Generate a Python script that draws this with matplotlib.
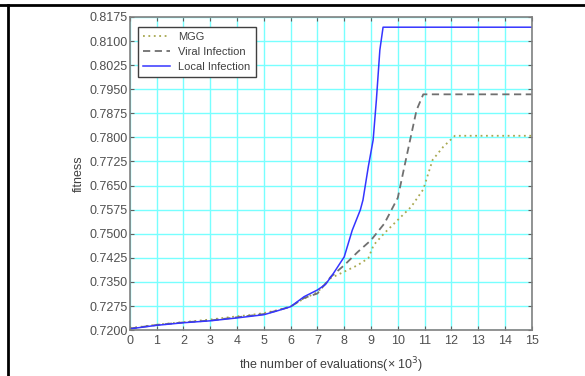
import matplotlib
matplotlib.use("Agg")
import matplotlib.pyplot as plt
from matplotlib.lines import Line2D
import numpy as np

plt.rcParams['font.family'] = ['Liberation Sans', 'DejaVu Sans']

# evaluations (x 10^3) and fitness values
x_local = [0, 1, 2, 3, 4, 5, 5.5, 6, 6.5, 7, 7.3, 7.6, 8, 8.3, 8.6, 8.7, 8.9,
           9.08, 9.2, 9.33, 9.45, 15]
y_local = [0.7204, 0.7215, 0.7223, 0.7229, 0.7238, 0.7248, 0.7260, 0.7273,
           0.7304, 0.7325, 0.7342, 0.7377, 0.7428, 0.7511, 0.7574, 0.7605,
           0.7709, 0.7792, 0.7916, 0.8072, 0.8143, 0.8143]

x_viral = [0, 1, 2, 3, 4, 5, 5.5, 6, 6.5, 7, 7.5, 8, 8.5, 9, 9.5, 10, 10.3,
           10.7, 10.95, 15]
y_viral = [0.7205, 0.7216, 0.7224, 0.7230, 0.7240, 0.7250, 0.7261, 0.7273,
           0.7300, 0.7314, 0.7366, 0.7402, 0.7443, 0.7480, 0.7532, 0.7612,
           0.7730, 0.7885, 0.7934, 0.7934]

x_mgg = [0, 1, 2, 3, 4, 4.5, 5, 5.5, 6, 6.5, 7, 7.5, 8, 8.5, 8.9, 9.1, 9.5,
         10, 10.5, 10.95, 11.3, 11.7, 12.13, 15]
y_mgg = [0.7206, 0.7217, 0.7225, 0.7233, 0.7243, 0.7247, 0.7253, 0.7262,
         0.7274, 0.7298, 0.7318, 0.7362, 0.7382, 0.7402, 0.7424, 0.7465,
         0.7502, 0.7543, 0.7584, 0.7638, 0.7730, 0.7771, 0.7805, 0.7805]

xticks = np.arange(0, 16, 1)
yticks = np.arange(0.7200, 0.8176, 0.0075)

fig = plt.figure(figsize=(5.85, 3.76), dpi=100)
ax = fig.add_axes([0.222, 0.122, 0.687, 0.833])

ax.plot(x_mgg, y_mgg, color='#a8a850', lw=1.3, linestyle=(0, (1, 2)), label='MGG')
ax.plot(x_viral, y_viral, color='#707070', lw=1.3, linestyle=(0, (4, 2.5)), label='Viral Infection')
ax.plot(x_local, y_local, color='#3535ff', lw=1.1, label='Local Infection')

ax.set_xlim(0, 15)
ax.set_ylim(0.7200, 0.8175)
ax.set_xticks(xticks)
ax.set_yticks(yticks)
ax.set_yticklabels(['%.4f' % v for v in yticks])
ax.grid(True, color='#78ffff', lw=1.0)
ax.set_axisbelow(True)

for s in ax.spines.values():
    s.set_color('#808080')
    s.set_linewidth(1.2)
ax.tick_params(direction='in', length=3, color='#606060', labelcolor='#505050',
               labelsize=9, top=True, right=True)
ax.tick_params(axis='y', pad=1.5)
ax.tick_params(axis='x', pad=3.5)

ax.set_xlabel('the number of evaluations(× 10$^3$)', fontsize=9, color='#404040', labelpad=6)
ax.set_ylabel('fitness', fontsize=9, color='#404040', labelpad=3)

leg = ax.legend(loc='upper left', bbox_to_anchor=(0.02, 0.967), fontsize=8,
                fancybox=False, framealpha=1, edgecolor='#404040',
                handlelength=2.4, borderaxespad=0, labelspacing=0.45,
                borderpad=0.45)
for t in leg.get_texts():
    t.set_color('#404040')
leg.get_frame().set_linewidth(1.0)

# page border lines
fig.add_artist(Line2D([0, 1], [0.987, 0.987], color='black', lw=2, transform=fig.transFigure))
fig.add_artist(Line2D([0.013, 0.013], [0, 0.987], color='black', lw=2, transform=fig.transFigure))

fig.savefig('out.png', dpi=100)
